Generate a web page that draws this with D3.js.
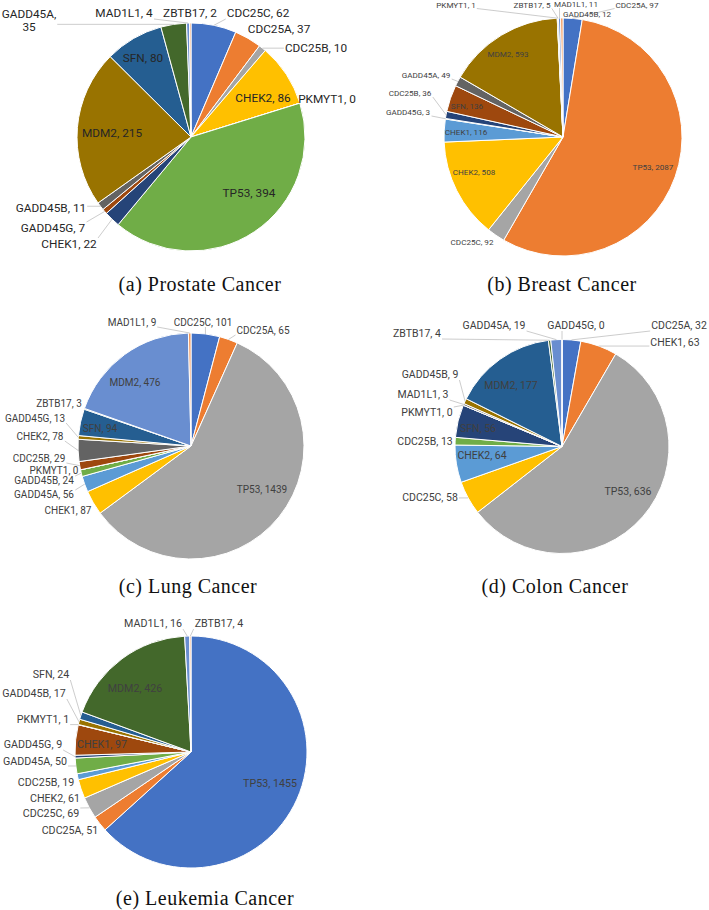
<!DOCTYPE html>
<html>
<head>
<meta charset="utf-8">
<script src="https://cdn.jsdelivr.net/npm/d3@7"></script>
<style>
  body { margin: 0; background: #fff; }
</style>
</head>
<body>
<div id="chart"></div>
<script>
// gene counts per cancer type, in the order the slices run clockwise from 12 o'clock

const prostateGenes = ["CDC25C", "CDC25A", "CDC25B", "CHEK2", "PKMYT1", "TP53", "CHEK1", "GADD45G", "GADD45B", "MDM2", "SFN", "GADD45A", "MAD1L1", "ZBTB17"];
const prostateValues = [62, 37, 10, 86, 0, 394, 22, 7, 11, 215, 80, 35, 4, 2];

const breastGenes = ["CDC25A", "TP53", "CDC25C", "CHEK2", "CHEK1", "GADD45G", "CDC25B", "SFN", "GADD45A", "MDM2", "PKMYT1", "ZBTB17", "MAD1L1", "GADD45B"];
const breastValues = [97, 2087, 92, 508, 116, 3, 36, 136, 49, 593, 1, 5, 11, 12];

const lungGenes = ["CDC25C", "CDC25A", "TP53", "CHEK1", "GADD45A", "GADD45B", "PKMYT1", "CDC25B", "CHEK2", "GADD45G", "SFN", "ZBTB17", "MDM2", "MAD1L1"];
const lungValues = [101, 65, 1439, 87, 56, 24, 0, 29, 78, 13, 94, 3, 476, 9];

const colonGenes = ["CDC25A", "CHEK1", "TP53", "CDC25C", "CHEK2", "CDC25B", "SFN", "PKMYT1", "MAD1L1", "GADD45B", "MDM2", "ZBTB17", "GADD45A", "GADD45G"];
const colonValues = [32, 63, 636, 58, 64, 13, 56, 0, 3, 9, 177, 4, 19, 0];

const leukemiaGenes = ["TP53", "CDC25A", "CDC25C", "CHEK2", "CDC25B", "GADD45A", "GADD45G", "CHEK1", "PKMYT1", "GADD45B", "SFN", "MDM2", "MAD1L1", "ZBTB17"];
const leukemiaValues = [1455, 51, 69, 61, 19, 50, 9, 97, 1, 17, 24, 426, 16, 4];

const captions = ["(a) Prostate Cancer", "(b) Breast Cancer", "(c) Lung Cancer", "(d) Colon Cancer", "(e) Leukemia Cancer"];

// excel office palette, by series position
const palette = ["#4472C4", "#ED7D31", "#A5A5A5", "#FFC000", "#5B9BD5", "#70AD47",
  "#264478", "#9E480E", "#636363", "#997300", "#255E91", "#43682B", "#698ED0", "#F1975A"];

// where excel put each data label (center x, baseline y)
const prostateLabels = {
  GADD45A: [29, 17.5, "wrap"], MAD1L1: [124, 17], ZBTB17: [190, 17], CDC25C: [258, 17],
  CDC25A: [279, 33], CDC25B: [316, 52], CHEK2: [263, 102], PKMYT1: [327, 103],
  TP53: [249, 197], MDM2: [112, 137], SFN: [143, 62], GADD45B: [51, 212],
  GADD45G: [53, 232], CHEK1: [69, 248]
};
const breastLabels = {
  PKMYT1: [456, 7.5], ZBTB17: [532, 7.5], MAD1L1: [576, 7], CDC25A: [637, 7.5],
  GADD45B: [587, 17], MDM2: [508, 57], GADD45A: [426, 78], CDC25B: [410, 96],
  GADD45G: [408, 115], SFN: [467, 109], CHEK1: [466, 135], CHEK2: [474, 175],
  TP53: [653, 170], CDC25C: [472, 245]
};
const lungLabels = {
  MAD1L1: [132, 326], CDC25C: [203, 326], CDC25A: [263, 334], MDM2: [135, 386],
  ZBTB17: [59, 407], GADD45G: [35, 422], SFN: [100, 432], CHEK2: [40, 440],
  CDC25B: [39, 462], PKMYT1: [54, 474], GADD45B: [44, 484], GADD45A: [44, 498],
  CHEK1: [68, 514], TP53: [262, 493]
};
const colonLabels = {
  ZBTB17: [417, 337], GADD45A: [494, 329], GADD45G: [576, 329], CDC25A: [679, 329],
  CHEK1: [675, 346], GADD45B: [430, 378], MDM2: [511, 389], MAD1L1: [423, 398],
  PKMYT1: [427, 416], SFN: [478, 432], CDC25B: [425, 445], CHEK2: [482, 459],
  CDC25C: [430, 501], TP53: [628, 495]
};
const leukemiaLabels = {
  MAD1L1: [153, 627], ZBTB17: [219, 627], SFN: [51, 678], GADD45B: [34, 697],
  MDM2: [135, 692], PKMYT1: [43, 723], GADD45G: [33, 748], CHEK1: [102, 748],
  GADD45A: [35, 765], CDC25B: [46, 786], CHEK2: [55, 802], CDC25C: [51, 817],
  CDC25A: [70, 834], TP53: [270, 787]
};

const width = 709;
const height = 910;

const svg = d3.select("#chart")
  .append("svg").attr("width", width).attr("height", height)
  .style("background", "#fff");

const charts = [
  { genes: prostateGenes, values: prostateValues, labels: prostateLabels, cx: 191, cy: 137, r: 114, font: 11.8, ink: "#262626", cap: [200, 291] },
  { genes: breastGenes, values: breastValues, labels: breastLabels, cx: 563, cy: 137, r: 119, font: 8.1, ink: "#404040", cap: [562, 291] },
  { genes: lungGenes, values: lungValues, labels: lungLabels, cx: 191, cy: 446, r: 113, font: 10, ink: "#404040", cap: [188, 593] },
  { genes: colonGenes, values: colonValues, labels: colonLabels, cx: 562, cy: 446.5, r: 107, font: 10.5, ink: "#404040", cap: [555, 593] },
  { genes: leukemiaGenes, values: leukemiaValues, labels: leukemiaLabels, cx: 191, cy: 752, r: 116, font: 10.7, ink: "#404040", cap: [205, 905] }
];

const color = d3.scaleOrdinal().domain(d3.range(palette.length)).range(palette);

charts.forEach((c, ci) => {
  const data = c.genes.map((g, i) => ({ gene: g, value: c.values[i], index: i }));
  const pie = d3.pie().sort(null).value(d => d.value);
  const arc = d3.arc().innerRadius(0).outerRadius(c.r);
  const arcs = pie(data);

  const g = svg.append("g").attr("transform", `translate(${c.cx},${c.cy})`);

  g.selectAll("path.slice")
    .data(arcs)
    .join("path")
    .attr("class", "slice")
    .attr("d", arc)
    .attr("fill", d => color(d.data.index))
    .attr("stroke", "#fff")
    .attr("stroke-width", 1)
    .attr("stroke-linejoin", "round");

  const leaders = g.append("g");
  const labelG = g.append("g");

  arcs.forEach(d => {
    const pos = c.labels[d.data.gene];
    const lx = pos[0] - c.cx, ly = pos[1] - c.cy;
    const t = labelG.append("text")
      .attr("text-anchor", "middle")
      .attr("font-family", "Roboto, 'Open Sans', sans-serif")
      .attr("font-size", c.font)
      .attr("fill", c.ink);
    if (pos[2] === "wrap") {
      t.append("tspan").attr("x", lx).attr("y", ly).text(d.data.gene + ",");
      t.append("tspan").attr("x", lx).attr("y", ly + c.font * 1.15).text(d.data.value);
    } else {
      t.attr("x", lx).attr("y", ly).text(`${d.data.gene}, ${d.data.value}`);
    }

    // leader line from label box to slice edge, only for labels outside the pie
    const bb = t.node().getBBox();
    const mcx = bb.x + bb.width / 2, mcy = bb.y + bb.height / 2;
    if (Math.hypot(mcx, mcy) < c.r * 0.9) return;
    const mid = (d.startAngle + d.endAngle) / 2;
    const ex = c.r * Math.sin(mid), ey = -c.r * Math.cos(mid);
    const sx = Math.max(bb.x - 1, Math.min(ex, bb.x + bb.width + 1));
    const sy = Math.max(bb.y + 1, Math.min(ey, bb.y + bb.height - 1));
    if (Math.hypot(ex - sx, ey - sy) < 6) return;
    leaders.append("line")
      .attr("x1", sx).attr("y1", sy)
      .attr("x2", ex).attr("y2", ey)
      .attr("stroke", "#BFBFBF")
      .attr("stroke-width", 0.8);
  });

  svg.append("text")
    .attr("x", c.cap[0])
    .attr("y", c.cap[1])
    .attr("text-anchor", "middle")
    .attr("font-family", "'Liberation Serif', 'DejaVu Serif', serif")
    .attr("font-size", 20)
    .attr("letter-spacing", 0.5)
    .attr("fill", "#111")
    .text(captions[ci]);
});
</script>
</body>
</html>
